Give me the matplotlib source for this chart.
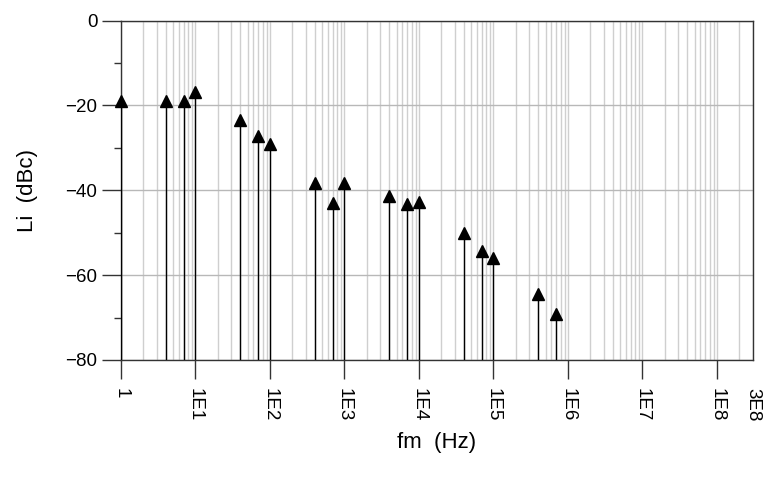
import matplotlib
matplotlib.use("Agg")
import matplotlib.pyplot as plt
from matplotlib.ticker import LogLocator, FixedLocator, NullFormatter, MultipleLocator

plt.rcParams['font.family'] = ['Liberation Sans', 'DejaVu Sans']

# Offset frequencies (Hz) and spur levels (dBc)
fm = [1, 4, 7, 10, 40, 70, 100, 400, 700, 1000,
      4000, 7000, 1e4, 4e4, 7e4, 1e5, 4e5, 7e5]
li = [-18.9, -19.0, -19.0, -16.8, -23.5, -27.3, -29.1, -38.2, -43.1, -38.4,
      -41.4, -43.2, -42.7, -50.1, -54.3, -55.9, -64.4, -69.1]

x_ticks = [1, 1e1, 1e2, 1e3, 1e4, 1e5, 1e6, 1e7, 1e8, 3e8]
x_tick_labels = ['1', '1E1', '1E2', '1E3', '1E4', '1E5', '1E6', '1E7', '1E8', '3E8']
y_ticks = [0, -20, -40, -60, -80]

fig = plt.figure(figsize=(7.66, 4.78), dpi=100)
ax = fig.add_axes([121/766, 1 - 360/478, (752.5 - 121)/766, (360 - 20.5)/478])

ax.set_xscale('log')
ax.set_xlim(1, 3e8)
ax.set_ylim(-80, 0)

# grid: light vertical lines at every log subdivision, horizontal at labelled levels
ax.xaxis.set_minor_locator(LogLocator(base=10, subs=range(2, 10), numticks=50))
ax.xaxis.set_minor_formatter(NullFormatter())
ax.grid(True, which='both', axis='x', color='#cfcfcf', linewidth=1.0)
ax.grid(True, which='major', axis='y', color='#b8b8b8', linewidth=1.0)
ax.set_axisbelow(True)

# stems from the bottom of the axes up to each level
ax.vlines(fm, -80, li, colors='black', linewidth=1.0, zorder=3)
ax.plot(fm, li, linestyle='none', marker='^', markersize=8.5,
        color='black', clip_on=False, zorder=4)

ax.xaxis.set_major_locator(FixedLocator(x_ticks))
ax.set_xticklabels(x_tick_labels, rotation=-90, va='top', ha='center')
ax.set_yticks(y_ticks)
ax.yaxis.set_minor_locator(MultipleLocator(10))

ax.tick_params(axis='x', which='major', length=14, width=1.0, color='#333333',
               labelsize=13.5, pad=6, direction='out')
ax.tick_params(axis='x', which='minor', length=0)
ax.tick_params(axis='y', which='major', length=14, width=1.0, color='#333333',
               labelsize=13.5, pad=3, direction='out')
ax.tick_params(axis='y', which='minor', length=5, width=1.0, color='#333333',
               direction='out')
ax.xaxis.get_major_ticks()[-1].tick1line.set_visible(False)

for s in ax.spines.values():
    s.set_color('#333333')
    s.set_linewidth(1.0)

ax.set_xlabel('fm  (Hz)', fontsize=16, labelpad=8)
ax.set_ylabel('Li  (dBc)', fontsize=16, labelpad=20)

fig.savefig('out.png', dpi=100)
